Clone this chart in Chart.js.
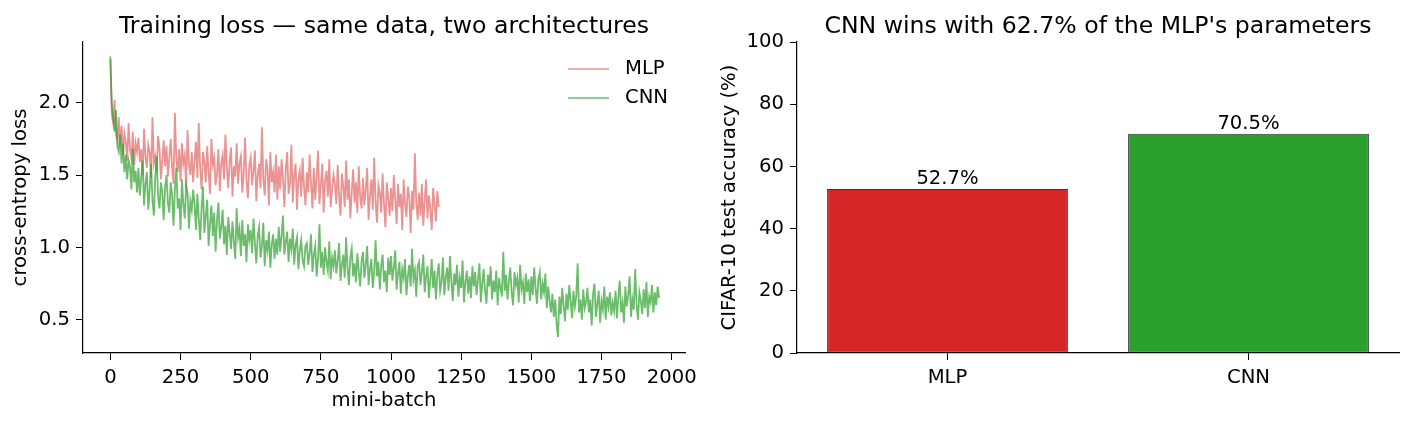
<!DOCTYPE html>
<html>
<head>
<meta charset="utf-8">
<script src="https://cdn.jsdelivr.net/npm/chart.js@4.4.1/dist/chart.umd.min.js"></script>
<style>
  html, body { margin: 0; padding: 0; background: #fff; }
  .panel { position: absolute; top: 0; height: 424px; width: 706px; }
  #left { left: 0; }
  #right { left: 706px; }
</style>
</head>
<body>
<div class="panel" id="left"><canvas id="lossChart"></canvas></div>
<div class="panel" id="right"><canvas id="accChart"></canvas></div>
<script>
// loss, one value every STEP mini-batches
const STEP = 5;
const mlpLoss = [
  2.30, 1.92, 1.86, 2.02, 1.78, 1.74, 1.90, 1.70, 1.84, 1.64, 1.79, 1.73, 1.60, 1.86, 1.68, 1.62, 1.80, 1.57, 1.72, 1.66,
  1.76, 1.59, 1.68, 1.50, 1.82, 1.62, 1.55, 1.71, 1.66, 1.48, 1.90, 1.58, 1.63, 1.52, 1.77, 1.69, 1.47, 1.60, 1.74, 1.56,
  1.70, 1.49, 1.62, 1.75, 1.55, 1.44, 1.93, 1.61, 1.52, 1.68, 1.46, 1.72, 1.58, 1.64, 1.41, 1.81, 1.57, 1.50, 1.66, 1.45,
  1.60, 1.73, 1.48, 1.86, 1.54, 1.40, 1.66, 1.59, 1.45, 1.70, 1.52, 1.37, 1.75, 1.57, 1.62, 1.43, 1.51, 1.68, 1.39, 1.58,
  1.64, 1.47, 1.78, 1.55, 1.41, 1.60, 1.69, 1.35, 1.56, 1.49, 1.72, 1.44, 1.58, 1.63, 1.38, 1.51, 1.76, 1.46, 1.34, 1.57,
  1.62, 1.43, 1.53, 1.67, 1.32, 1.50, 1.58, 1.41, 1.83, 1.47, 1.36, 1.61, 1.54, 1.29, 1.66, 1.45, 1.52, 1.38, 1.64, 1.33,
  1.56, 1.40, 1.61, 1.48, 1.28, 1.54, 1.66, 1.37, 1.44, 1.71, 1.31, 1.50, 1.58, 1.26, 1.47, 1.53, 1.35, 1.62, 1.42, 1.29,
  1.52, 1.38, 1.64, 1.45, 1.27, 1.55, 1.33, 1.49, 1.67, 1.30, 1.43, 1.58, 1.24, 1.46, 1.53, 1.35, 1.61, 1.28, 1.40, 1.50,
  1.44, 1.30, 1.57, 1.36, 1.22, 1.51, 1.42, 1.28, 1.60, 1.33, 1.47, 1.20, 1.38, 1.54, 1.31, 1.45, 1.24, 1.56, 1.35, 1.27,
  1.48, 1.29, 1.40, 1.55, 1.19, 1.36, 1.47, 1.26, 1.62, 1.32, 1.17, 1.43, 1.38, 1.24, 1.51, 1.30, 1.14, 1.45, 1.34, 1.22,
  1.41, 1.25, 1.50, 1.33, 1.16, 1.44, 1.28, 1.37, 1.12, 1.47, 1.30, 1.21, 1.42, 1.35, 1.10, 1.39, 1.26, 1.65, 1.31, 1.19,
  1.38, 1.22, 1.44, 1.15, 1.33, 1.47, 1.20, 1.36, 1.27, 1.12, 1.41, 1.30, 1.18, 1.39, 1.28
];
const cnnLoss = [
  2.32, 2.00, 1.90, 1.80, 1.95, 1.70, 1.66, 1.78, 1.58, 1.72, 1.52, 1.64, 1.47, 1.60, 1.56, 1.40, 1.68, 1.45, 1.53, 1.38,
  1.55, 1.36, 1.48, 1.60, 1.29, 1.44, 1.52, 1.26, 1.40, 1.58, 1.33, 1.22, 1.49, 1.63, 1.35, 1.27, 1.45, 1.38, 1.19, 1.42,
  1.50, 1.31, 1.24, 1.45, 1.36, 1.15, 1.41, 1.55, 1.27, 1.34, 1.12, 1.47, 1.30, 1.20, 1.43, 1.38, 1.13, 1.32, 1.26, 1.40,
  1.30, 1.12, 1.37, 1.20, 1.05, 1.27, 1.42, 1.10, 1.22, 1.33, 1.01, 1.16, 1.29, 1.08, 1.24, 0.97, 1.19, 1.31, 1.06, 1.14,
  1.26, 1.02, 1.15, 0.95, 1.21, 1.10, 0.99, 1.18, 1.04, 0.92, 1.27, 1.07, 1.13, 0.94, 1.19, 1.01, 1.09, 0.90, 1.16, 1.05,
  1.12, 0.96, 1.20, 1.03, 0.89, 1.08, 1.14, 0.93, 1.01, 1.17, 0.87, 1.05, 0.98, 1.11, 0.86, 1.02, 1.09, 0.92, 1.06, 0.95,
  1.14, 0.97, 1.08, 1.22, 0.95, 1.04, 1.11, 0.90, 1.06, 0.99, 1.13, 0.88, 1.02, 1.07, 0.85, 0.98, 1.05, 0.91, 0.87, 1.01,
  1.03, 0.88, 0.96, 1.09, 0.83, 0.95, 1.01, 0.80, 0.92, 1.16, 0.86, 0.97, 0.81, 1.00, 0.90, 0.84, 1.04, 0.78, 0.93, 0.87,
  0.98, 0.82, 0.91, 1.03, 0.77, 0.88, 0.95, 0.79, 1.07, 0.86, 0.74, 0.93, 0.99, 0.80, 0.89, 0.76, 0.96, 0.84, 0.73, 0.90,
  0.97, 0.79, 0.88, 1.01, 0.74, 0.85, 0.92, 0.72, 0.83, 1.05, 0.80, 0.90, 0.71, 0.87, 0.95, 0.76, 0.84, 0.69, 0.93, 0.81,
  0.94, 0.77, 0.86, 0.98, 0.71, 0.82, 0.90, 0.68, 0.85, 0.79, 0.92, 0.67, 0.80, 0.88, 0.73, 0.99, 0.78, 0.84, 0.66, 0.87,
  0.90, 0.74, 0.83, 0.95, 0.69, 0.80, 0.87, 0.65, 0.78, 0.92, 0.72, 0.84, 0.64, 0.81, 0.89, 0.70, 0.76, 0.93, 0.67, 0.79,
  0.86, 0.70, 0.94, 0.77, 0.63, 0.82, 0.74, 0.88, 0.66, 0.79, 0.72, 0.91, 0.62, 0.76, 0.84, 0.68, 0.80, 0.65, 0.87, 0.73,
  0.83, 0.67, 0.78, 0.89, 0.62, 0.75, 0.85, 0.70, 0.61, 0.81, 0.73, 0.87, 0.64, 0.77, 0.69, 0.84, 0.60, 0.79, 0.72, 0.66,
  0.97, 0.70, 0.81, 0.64, 0.77, 0.86, 0.68, 0.60, 0.83, 0.74, 0.79, 0.62, 0.88, 0.71, 0.76, 0.61, 0.82, 0.69, 0.78, 0.63,
  0.80, 0.67, 0.86, 0.72, 0.61, 0.78, 0.83, 0.64, 0.75, 0.69, 0.82, 0.58, 0.73, 0.63, 0.55, 0.68, 0.52, 0.64, 0.47, 0.38,
  0.66, 0.54, 0.72, 0.60, 0.49, 0.68, 0.57, 0.74, 0.63, 0.51, 0.70, 0.59, 0.66, 0.89, 0.55, 0.64, 0.50, 0.71, 0.58, 0.62,
  0.72, 0.55, 0.64, 0.46, 0.68, 0.75, 0.52, 0.61, 0.70, 0.48, 0.63, 0.57, 0.73, 0.50, 0.66, 0.59, 0.69, 0.53, 0.62, 0.56,
  0.70, 0.51, 0.66, 0.77, 0.55, 0.62, 0.48, 0.73, 0.59, 0.67, 0.80, 0.52, 0.64, 0.57, 0.85, 0.60, 0.50, 0.69, 0.63, 0.54,
  0.71, 0.58, 0.76, 0.52, 0.66, 0.62, 0.74, 0.55, 0.69, 0.60, 0.73, 0.65
];
const batchTicks = [0, 250, 500, 750, 1000, 1250, 1500, 1750, 2000];
const lossTicks = [0.5, 1.0, 1.5, 2.0];

const models = ['MLP', 'CNN'];
const accuracy = [52.7, 70.5];
const accTicks = [0, 20, 40, 60, 80, 100];

Chart.defaults.font.family = '"DejaVu Sans", sans-serif';
Chart.defaults.font.size = 19.6;
Chart.defaults.color = '#000';
Chart.defaults.animation = false;

function toPoints(values) {
  return values.map((v, i) => ({ x: i * STEP, y: v }));
}

function axisBase(ticks, fmt) {
  const axis = {
    grid: { display: true, drawOnChartArea: false, drawTicks: true, tickLength: 7, color: '#000', lineWidth: 1 },
    border: { display: true, color: '#000', width: 1.2 },
    ticks: { color: '#000', padding: 6, autoSkip: false, maxRotation: 0 }
  };
  if (fmt) axis.ticks.callback = fmt;
  if (ticks) {
    axis.afterBuildTicks = function(scale) {
      scale.ticks = ticks.map(v => ({ value: v }));
    };
  }
  return axis;
}

// legend drawn inside the axes, top right
const insideLegend = {
  id: 'insideLegend',
  afterDraw(chart) {
    const { ctx, chartArea } = chart;
    ctx.save();
    chart.data.datasets.forEach((ds, i) => {
      const y = chartArea.top + 27 + i * 29;
      const x0 = chartArea.right - 117;
      ctx.strokeStyle = ds.borderColor;
      ctx.lineWidth = 1.6;
      ctx.beginPath();
      ctx.moveTo(x0, y);
      ctx.lineTo(x0 + 41, y);
      ctx.stroke();
      ctx.fillStyle = '#000';
      ctx.font = '19.6px "DejaVu Sans"';
      ctx.textBaseline = 'middle';
      ctx.fillText(ds.label, x0 + 57, y);
    });
    ctx.restore();
  }
};

// value labels on top of the bars
const barLabels = {
  id: 'barLabels',
  afterDatasetsDraw(chart) {
    const { ctx } = chart;
    const meta = chart.getDatasetMeta(0);
    ctx.save();
    ctx.fillStyle = '#000';
    ctx.font = '19.6px "DejaVu Sans"';
    ctx.textAlign = 'center';
    ctx.textBaseline = 'alphabetic';
    meta.data.forEach((bar, i) => {
      ctx.fillText(accuracy[i].toFixed(1) + '%', bar.x, bar.y - 5);
    });
    ctx.restore();
  }
};

const titleFont = { size: 23.6, weight: 'normal' };
const titlePad = { top: 13, bottom: 0.7 };

const lossX = axisBase(batchTicks, v => String(v));
lossX.type = 'linear';
lossX.min = -97.5;
lossX.max = 2047.5;
lossX.title = { display: true, text: 'mini-batch', padding: { top: 0, bottom: 11 } };
lossX.afterFit = function(scale) { scale.height = 71; };

const lossY = axisBase(lossTicks, v => v.toFixed(1));
lossY.min = 0.27;
lossY.max = 2.42;
lossY.title = { display: true, text: 'cross-entropy loss', padding: { top: 9, bottom: 0 } };
lossY.afterFit = function(scale) { scale.width = 83; };

new Chart(document.getElementById('lossChart'), {
  type: 'line',
  data: {
    datasets: [{
      label: 'MLP',
      data: toPoints(mlpLoss),
      borderColor: 'rgba(214, 39, 40, 0.5)',
      borderWidth: 1.8,
      pointRadius: 0,
      tension: 0,
      order: 1
    }, {
      label: 'CNN',
      data: toPoints(cnnLoss),
      borderColor: 'rgba(44, 160, 44, 0.7)',
      borderWidth: 1.8,
      pointRadius: 0,
      tension: 0,
      order: 0
    }]
  },
  options: {
    responsive: true,
    maintainAspectRatio: false,
    parsing: false,
    layout: { padding: { left: 0, right: 21, top: 0, bottom: 0 } },
    scales: { x: lossX, y: lossY },
    plugins: {
      legend: { display: false },
      tooltip: { enabled: false },
      title: {
        display: true,
        fullSize: false,
        text: 'Training loss \u2014 same data, two architectures',
        color: '#000',
        font: titleFont,
        padding: titlePad
      }
    }
  },
  plugins: [insideLegend]
});

const accX = axisBase(null, null);
accX.type = 'category';
accX.offset = true;
accX.grid.offset = false;
accX.afterFit = function(scale) { scale.height = 71; };

const accY = axisBase(accTicks, v => String(v));
accY.min = 0;
accY.max = 100;
accY.title = { display: true, text: 'CIFAR-10 test accuracy (%)', padding: { top: 12, bottom: 0 } };
accY.afterFit = function(scale) { scale.width = 91; };

new Chart(document.getElementById('accChart'), {
  type: 'bar',
  data: {
    labels: models,
    datasets: [{
      label: 'test accuracy',
      data: accuracy,
      backgroundColor: ['#d62728', '#2ca02c'],
      borderColor: '#333333',
      borderWidth: 1,
      borderSkipped: false,
      categoryPercentage: 1.0,
      barPercentage: 0.8
    }]
  },
  options: {
    responsive: true,
    maintainAspectRatio: false,
    layout: { padding: { left: 0, right: 13, top: 0, bottom: 0 } },
    scales: { x: accX, y: accY },
    plugins: {
      legend: { display: false },
      tooltip: { enabled: false },
      title: {
        display: true,
        fullSize: false,
        text: "CNN wins with 62.7% of the MLP's parameters",
        color: '#000',
        font: titleFont,
        padding: titlePad
      }
    }
  },
  plugins: [barLabels]
});
</script>
</body>
</html>
